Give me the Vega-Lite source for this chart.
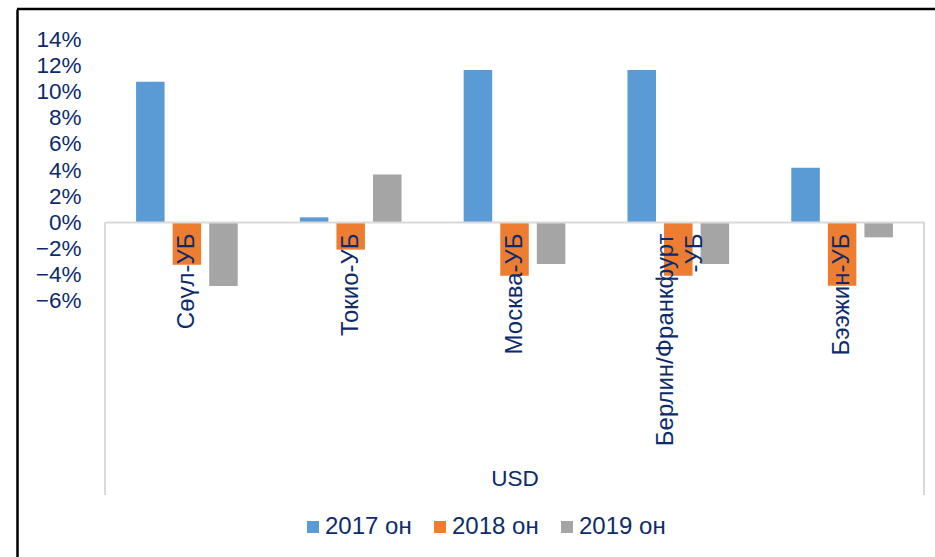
{
  "$schema": "https://vega.github.io/schema/vega-lite/v6.json",
  "width": 920,
  "height": 550,
  "padding": {"left": 15, "top": 7, "right": 0, "bottom": 0},
  "background": "white",
  "config": {
    "view": {"stroke": null},
    "font": "Liberation Sans",
    "axis": {"labelColor": "#0d2b6b", "titleColor": "#0d2b6b", "grid": false}
  },
  "data": {
    "values": [
      {"city": "Сөүл-УБ", "year": "2017 он", "value": 0.1076},
      {"city": "Сөүл-УБ", "year": "2018 он", "value": -0.0324},
      {"city": "Сөүл-УБ", "year": "2019 он", "value": -0.0487},
      {"city": "Токио-УБ", "year": "2017 он", "value": 0.0038},
      {"city": "Токио-УБ", "year": "2018 он", "value": -0.0209},
      {"city": "Токио-УБ", "year": "2019 он", "value": 0.0365},
      {"city": "Москва-УБ", "year": "2017 он", "value": 0.1165},
      {"city": "Москва-УБ", "year": "2018 он", "value": -0.0408},
      {"city": "Москва-УБ", "year": "2019 он", "value": -0.0319},
      {"city": "Берлин/Франкфурт-УБ", "year": "2017 он", "value": 0.1165},
      {"city": "Берлин/Франкфурт-УБ", "year": "2018 он", "value": -0.0408},
      {"city": "Берлин/Франкфурт-УБ", "year": "2019 он", "value": -0.0319},
      {"city": "Бээжин-УБ", "year": "2017 он", "value": 0.0418},
      {"city": "Бээжин-УБ", "year": "2018 он", "value": -0.0485},
      {"city": "Бээжин-УБ", "year": "2019 он", "value": -0.0115}
    ]
  },
  "layer": [
    {
      "mark": {"type": "bar"},
      "encoding": {
        "x": {
          "field": "city",
          "type": "nominal",
          "scale": {
            "domain": ["Сөүл-УБ", "Токио-УБ", "Москва-УБ", "Берлин/Франкфурт-УБ", "Бээжин-УБ"],
            "range": [88, 907],
            "paddingInner": 0,
            "paddingOuter": 0
          },
          "axis": {
            "orient": "bottom",
            "offset": -337,
            "zindex": 1,
            "domain": true,
            "domainColor": "#d9d9d9",
            "domainWidth": 2,
            "ticks": false,
            "labelAngle": 270,
            "labelAlign": "right",
            "labelBaseline": "middle",
            "labelPadding": 11,
            "labelFontSize": 24,
            "labelLineHeight": 28.5,
            "labelLimit": 400,
            "labelOffset": {"condition": {"test": "length(datum.label) > 12", "value": -12}, "value": 0},
            "labelExpr": "length(datum.label) > 12 ? [slice(datum.label, 0, lastindexof(datum.label, '-')), slice(datum.label, lastindexof(datum.label, '-'))] : datum.label",
            "title": "USD",
            "titleFontSize": 22.5,
            "titleFontWeight": "normal",
            "titleBaseline": "middle",
            "titleY": 256
          }
        },
        "xOffset": {
          "field": "year",
          "type": "nominal",
          "scale": {"paddingInner": 0.22, "paddingOuter": 0.85}
        },
        "y": {
          "field": "value",
          "type": "quantitative",
          "scale": {"domain": [-0.2576, 0.1632], "nice": false, "zero": false},
          "axis": {
            "values": [-0.06, -0.04, -0.02, 0, 0.02, 0.04, 0.06, 0.08, 0.1, 0.12, 0.14],
            "format": ".0%",
            "ticks": false,
            "domain": true,
            "domainColor": "black",
            "domainWidth": 2.5,
            "labelPadding": -64,
            "labelAlign": "right",
            "labelFontSize": 22.5,
            "title": null
          }
        },
        "color": {
          "field": "year",
          "type": "nominal",
          "scale": {"range": ["#5b9bd5", "#ed7d31", "#a5a5a5"]},
          "legend": {
            "orient": "none",
            "direction": "horizontal",
            "legendX": 284,
            "legendY": 506,
            "title": null,
            "padding": 0,
            "symbolType": "square",
            "symbolSize": 144,
            "symbolStrokeWidth": 0,
            "labelFontSize": 24,
            "labelColor": "#0d2b6b",
            "labelOffset": 0,
            "columnPadding": 16
          }
        }
      }
    },
    {
      "data": {"values": [{"city": "Сөүл-УБ"}]},
      "mark": {"type": "rule", "color": "#d9d9d9", "strokeWidth": 2},
      "encoding": {
        "x": {"field": "city", "type": "nominal", "bandPosition": 0},
        "y": {"datum": 0},
        "y2": {"datum": -0.2087}
      }
    },
    {
      "data": {"values": [{"city": "Бээжин-УБ"}]},
      "mark": {"type": "rule", "color": "#d9d9d9", "strokeWidth": 2},
      "encoding": {
        "x": {"field": "city", "type": "nominal", "bandPosition": 1},
        "y": {"datum": 0},
        "y2": {"datum": -0.2087}
      }
    },
    {
      "data": {"values": [{"edge": "top"}]},
      "mark": {"type": "rule", "color": "black", "strokeWidth": 2.5},
      "encoding": {
        "y": {"datum": 0.1632}
      }
    }
  ]
}
